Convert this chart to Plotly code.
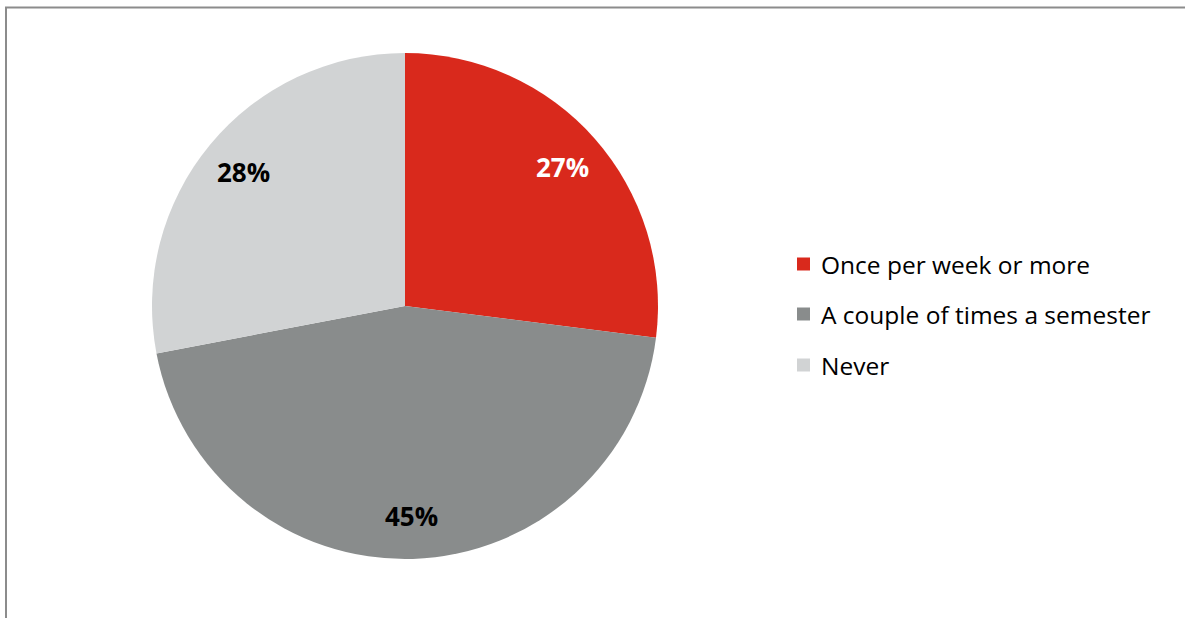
import math
import plotly.graph_objects as go

# Survey answers and their shares (percent)
categories = ["Once per week or more", "A couple of times a semester", "Never"]
shares = [27, 45, 28]
slice_colors = ["#d9291c", "#898c8c", "#d1d3d4"]
label_colors = ["#ffffff", "#000000", "#000000"]

W, H = 1185, 618
FONT = "Open Sans"

# Pie placement in pixels: centre and radius
CX, CY, R = 405, 306, 253
LABEL_RADIUS = 0.83  # fraction of the radius where percentage labels sit

fig = go.Figure()

fig.add_trace(go.Pie(
    labels=categories,
    values=shares,
    sort=False,
    direction="clockwise",
    rotation=0,
    marker=dict(colors=slice_colors, line=dict(color="#ffffff", width=0)),
    textinfo="none",
    hoverinfo="label+percent",
    showlegend=False,
    domain=dict(x=[(CX - R) / W, (CX + R) / W], y=[(H - CY - R) / H, (H - CY + R) / H]),
))

shapes = []
annotations = []

# Percentage labels at each slice's mid-angle (clockwise from 12 o'clock)
total = sum(shares)
start = 0.0
for value, color in zip(shares, label_colors):
    mid = (start + value / 2) / total * 2 * math.pi
    start += value
    px = CX + LABEL_RADIUS * R * math.sin(mid)
    py = CY - LABEL_RADIUS * R * math.cos(mid)
    annotations.append(dict(
        xref="paper", yref="paper", x=px / W, y=(H - py) / H,
        xanchor="center", yanchor="middle", showarrow=False,
        text=f"{value}%",
        font=dict(family=FONT, size=26, color=color, weight="bold"),
    ))

# Legend: colour swatch plus category name, one row per slice
row_y = [264, 314, 365]
for name, color, y in zip(categories, slice_colors, row_y):
    shapes.append(dict(
        type="rect", xref="paper", yref="paper",
        x0=797 / W, x1=810 / W,
        y0=(H - (y + 6.5)) / H, y1=(H - (y - 6.5)) / H,
        fillcolor=color, line=dict(width=0),
    ))
    annotations.append(dict(
        xref="paper", yref="paper", x=819 / W, y=(H - y) / H,
        xanchor="left", yanchor="middle", showarrow=False,
        text=name, font=dict(family=FONT, size=24.5, color="#000000"),
    ))

# Chart frame (extends past the right and bottom edges)
shapes.append(dict(
    type="rect", xref="paper", yref="paper",
    x0=6 / W, x1=1.02, y0=-0.02, y1=(H - 7.5) / H,
    line=dict(color="#8c8c8c", width=2), fillcolor="rgba(0,0,0,0)",
))

fig.update_layout(
    width=W, height=H,
    margin=dict(l=0, r=0, t=0, b=0),
    paper_bgcolor="#ffffff",
    plot_bgcolor="#ffffff",
    shapes=shapes,
    annotations=annotations,
    font=dict(family=FONT),
)

fig.write_html("out.html")
